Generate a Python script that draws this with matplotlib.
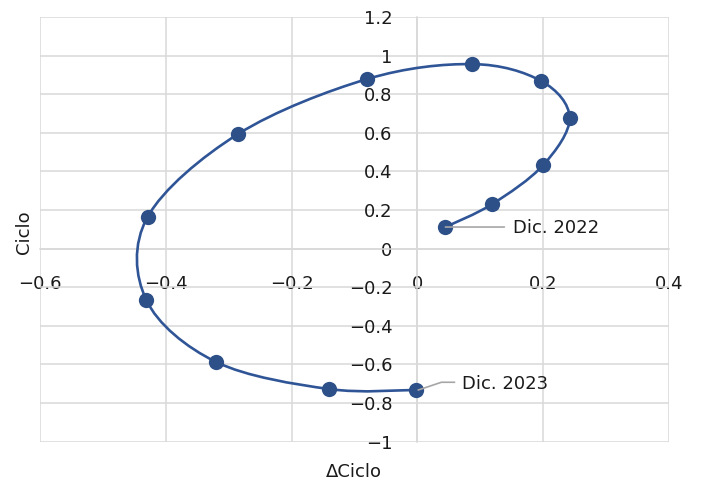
import numpy as np
import matplotlib
matplotlib.use("Agg")
import matplotlib.pyplot as plt
from matplotlib.path import Path
from matplotlib.patches import PathPatch
from matplotlib.lines import Line2D
from matplotlib.transforms import Affine2D

# Data
delta_ciclo = [0.0445, 0.119, 0.200, 0.242, 0.197, 0.0874, -0.0795, -0.285, -0.429, -0.431, -0.320, -0.141, -0.0016]
ciclo = [0.112, 0.231, 0.433, 0.677, 0.868, 0.956, 0.879, 0.594, 0.164, -0.266, -0.587, -0.727, -0.732]
labels = {0: "Dic. 2022", 12: "Dic. 2023"}
xticks = [-0.6, -0.4, -0.2, 0, 0.2, 0.4]
yticks = [-1, -0.8, -0.6, -0.4, -0.2, 0, 0.2, 0.4, 0.6, 0.8, 1, 1.2]

LINE = "#2F5597"
MARK = "#2E5088"
GRID = "#D9D9D9"
TXT = "#1a1a1a"
FS = 13

plt.rcParams['font.family'] = ['DejaVu Sans']

fig = plt.figure(figsize=(7.01, 4.87), dpi=100)
ax = fig.add_axes([40/701, 1-441.7/487, (669-40)/701, (441.7-17)/487])
ax.set_xlim(-0.6, 0.4)
ax.set_ylim(-1, 1.2)

# smooth curve (cardinal spline as Bezier)
P = np.column_stack([delta_ciclo, ciclo])
n = len(P)
verts = [tuple(P[0])]
codes = [Path.MOVETO]
for i in range(n - 1):
    p_prev = P[i - 1] if i > 0 else P[i]
    p_next2 = P[i + 2] if i + 2 < n else P[i + 1]
    c1 = P[i] + (P[i + 1] - p_prev) / 6
    c2 = P[i + 1] - (p_next2 - P[i]) / 6
    verts += [tuple(c1), tuple(c2), tuple(P[i + 1])]
    codes += [Path.CURVE4] * 3
ax.add_patch(PathPatch(Path(verts, codes), facecolor='none', edgecolor=LINE, lw=1.9, zorder=3, capstyle='round'))
ax.plot(delta_ciclo, ciclo, 'o', color=MARK, ms=11, zorder=4, markeredgewidth=0)

# grid/axes
ax.set_xticks(xticks)
ax.set_yticks(yticks)
ax.set_xticklabels([f"{t:g}".replace("-", "\u2212") for t in xticks])
ax.set_yticklabels([f"{t:g}".replace("-", "\u2212") for t in yticks])
ax.grid(True, color=GRID, lw=1.1, zorder=0)
for gl in ax.get_xgridlines() + ax.get_ygridlines():
    gl.set_clip_on(False)
for s in ['top', 'right']:
    ax.spines[s].set_visible(False)
ax.spines['left'].set_position(('data', 0))
ax.spines['bottom'].set_position(('data', 0))
ax.spines['left'].set_color(GRID)
ax.spines['bottom'].set_color(GRID)
ax.spines['left'].set_linewidth(1.1)
ax.spines['bottom'].set_linewidth(1.1)
ax.tick_params(axis='both', length=0, labelsize=FS, labelcolor=TXT)
ax.tick_params(axis='y', pad=18)
ax.tick_params(axis='x', pad=19)
ax.set_axisbelow(True)

fig.text(24/701, 1-232/487, "Ciclo", rotation=90, ha='center', va='center', fontsize=FS, color=TXT)
fig.text(354/701, 1-472/487, "\u0394Ciclo", ha='center', va='center', fontsize=FS, color=TXT)

# annotations with leader lines
fig.canvas.draw()
LEAD = "#A6A6A6"
px = 0.72  # points per pixel at 100 dpi
i0 = 0
ax.annotate(labels[i0], xy=(delta_ciclo[i0], ciclo[i0]), xytext=(68*px, -1*px), textcoords='offset points',
            ha='left', va='center', fontsize=FS, color=TXT)
ax.annotate('', xy=(delta_ciclo[i0], ciclo[i0]), xytext=(59*px, 0), textcoords='offset points',
            arrowprops=dict(arrowstyle='-', color=LEAD, lw=1.2, shrinkA=0, shrinkB=0), zorder=5)
i1 = 12
ax.annotate(labels[i1], xy=(delta_ciclo[i1], ciclo[i1]), xytext=(46*px, 5.7*px), textcoords='offset points',
            ha='left', va='center', fontsize=FS, color=TXT)
x0, y0 = ax.transData.transform((delta_ciclo[i1], ciclo[i1]))
ln = Line2D([x0 + 2, x0 + 25, x0 + 38], [y0, y0 + 7.7, y0 + 7.7], color=LEAD, lw=1.2, zorder=5)
ln.set_transform(Affine2D())
fig.add_artist(ln)

fig.savefig("out.png", dpi=100)
